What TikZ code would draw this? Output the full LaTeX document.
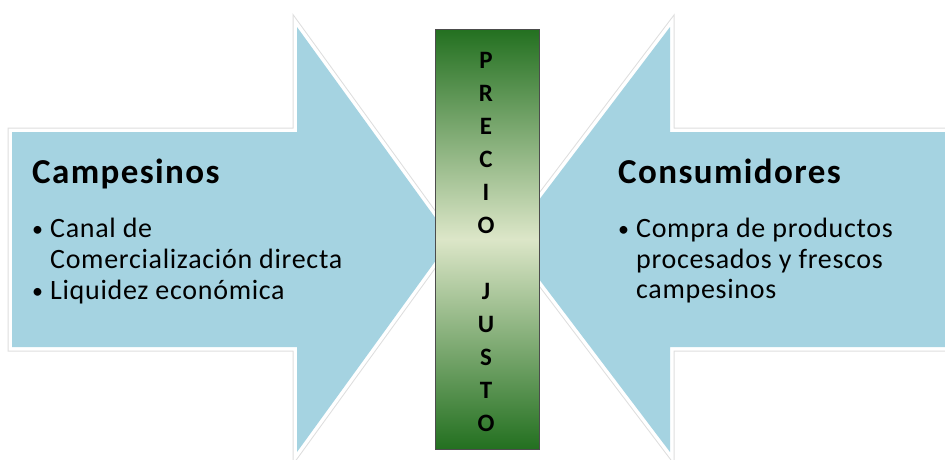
\documentclass[tikz,border=0pt]{standalone}
\usepackage{fontspec}
\setmainfont{Carlito}
\newfontfamily\textoFlecha[LetterSpace=2.5]{Carlito}
\newfontfamily\tituloFlecha[LetterSpace=4]{Carlito}
\usetikzlibrary{positioning}
\definecolor{azulFlecha}{HTML}{A5D3E1}
\definecolor{verdeOscuro}{HTML}{237020}
\definecolor{verdeClaro}{HTML}{DCE6C8}
\newcommand{\punto}{\raisebox{1pt}{\fontsize{22}{22}\selectfont\textbullet}}
\begin{document}
\begin{tikzpicture}[
            x=1pt, y=-1pt,
            flecha/.style={fill=azulFlecha, line join=miter},
            borde/.style={draw=black!13, line width=9pt, line join=miter},
            brillo/.style={draw=white, line width=7pt, line join=miter},
            barra/.style={rectangle, draw=black!70, line width=0.8pt, minimum width=104pt, minimum height=420pt, inner sep=0pt,
                top color=verdeOscuro, bottom color=verdeOscuro, middle color=verdeClaro},
            titulo/.style={anchor=base west, inner sep=0pt, font=\tituloFlecha\fontsize{35}{40}\selectfont\bfseries},
            puntos/.style={anchor=north west, inner sep=0pt, font=\textoFlecha\fontsize{28}{30.5}\selectfont},
            letras/.style={anchor=north, inner sep=0pt, align=center, font=\fontsize{25}{33}\selectfont\bfseries}
        ]
        \useasboundingbox (0,0) rectangle (945,459);
        % flecha izquierda
        \path[borde] (12,132) -- (297,132) -- (297,27) -- (451,239.5) -- (297,452) -- (297,347) -- (12,347) -- cycle;
        \path[brillo] (12,132) -- (297,132) -- (297,27) -- (451,239.5) -- (297,452) -- (297,347) -- (12,347) -- cycle;
        \path[flecha] (12,132) -- (297,132) -- (297,27) -- (451,239.5) -- (297,452) -- (297,347) -- (12,347) -- cycle;
        % flecha derecha
        \path[borde] (965,132) -- (670,132) -- (670,27) -- (509,239.5) -- (670,452) -- (670,347) -- (965,347) -- cycle;
        \path[brillo] (965,132) -- (670,132) -- (670,27) -- (509,239.5) -- (670,452) -- (670,347) -- (965,347) -- cycle;
        \path[flecha] (965,132) -- (670,132) -- (670,27) -- (509,239.5) -- (670,452) -- (670,347) -- (965,347) -- cycle;
        % barra central
        \node[barra] (precio) at (487,239) {};
        \node[letras] (justo) at (486,52.2) {P\\R\\E\\C\\I\\O\\[33pt]J\\U\\S\\T\\O};
        % textos
        \node[titulo] (campesinos) at (32,183) {Campesinos};
        \node[puntos] (campItems) at (32,216) {%
            \begin{tabular}{@{}l@{\hspace{7pt}}l@{}}
            \punto & Canal de\\
                   & Comercialización directa\\[0.5pt]
            \punto & Liquidez económica
            \end{tabular}};
        \node[titulo] (consumidores) at (618,183) {Consumidores};
        \node[puntos] (consItems) at (618,216) {%
            \begin{tabular}{@{}l@{\hspace{7pt}}l@{}}
            \punto & Compra de productos\\
                   & procesados y frescos\\
                   & campesinos
            \end{tabular}};
\end{tikzpicture}
\end{document}
